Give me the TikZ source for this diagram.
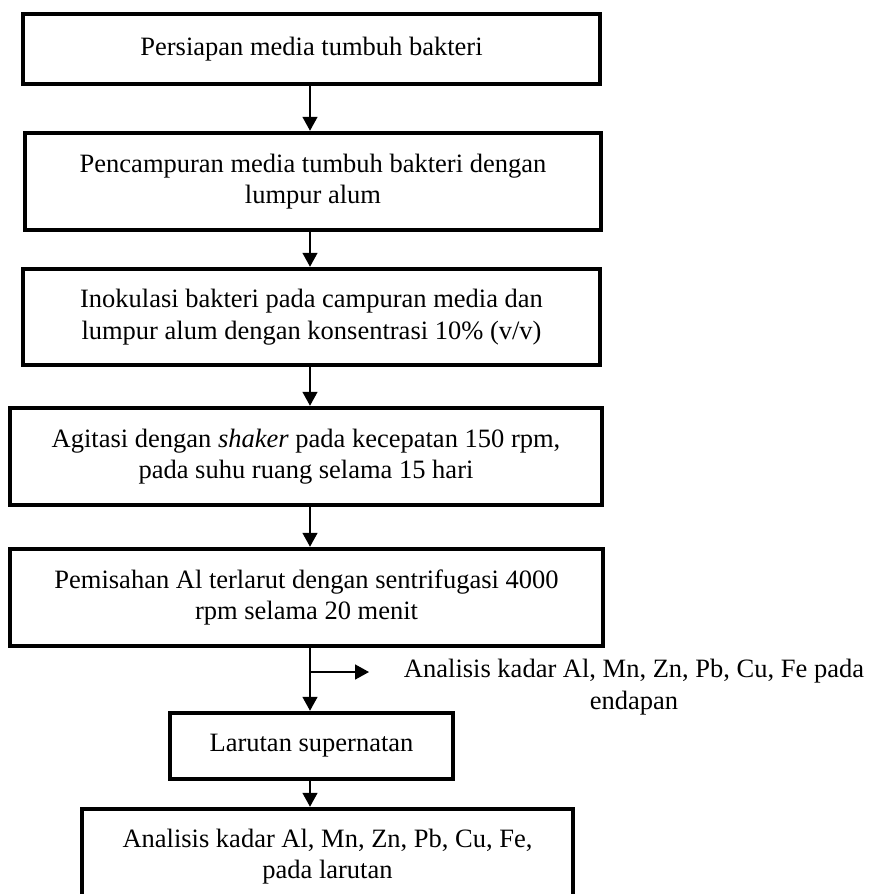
\documentclass[tikz,border=0pt]{standalone}
\usepackage{fontspec}
\setmainfont{Liberation Serif}
\usetikzlibrary{arrows.meta}
\begin{document}
\begin{tikzpicture}[x=1pt,y=-1pt,
  box/.style={draw, line width=4.5pt, align=center, inner sep=0pt, font=\fontsize{26.5}{31.5}\selectfont},
  arr/.style={line width=1.6pt, -{Triangle[length=14pt,width=15pt]}},
  lbl/.style={align=center, inner sep=0pt, font=\fontsize{26.5}{31.5}\selectfont}]
\useasboundingbox (0,0) rectangle (870,894);
\coordinate (ax) at (310,0);
\node[box, minimum width=577pt, minimum height=70pt] (b1) at (311.5,49) {Persiapan media tumbuh bakteri};
\node[box, minimum width=576pt, minimum height=97pt] (b2) at (313,181.5) {Pencampuran media tumbuh bakteri dengan\\lumpur alum};
\node[box, minimum width=577pt, minimum height=96pt] (b3) at (311.5,317) {Inokulasi bakteri pada campuran media dan\\lumpur alum dengan konsentrasi 10\% (v/v)};
\node[box, minimum width=592pt, minimum height=97pt] (b4) at (306,456.5) {Agitasi dengan \textit{shaker} pada kecepatan 150 rpm,\\pada suhu ruang selama 15 hari};
\node[box, minimum width=593pt, minimum height=97pt] (b5) at (306.5,597.5) {Pemisahan Al terlarut dengan sentrifugasi 4000\\rpm selama 20 menit};
\node[box, minimum width=283pt, minimum height=66pt] (b6) at (311.5,746) {Larutan supernatan};
\node[box, minimum width=491pt, minimum height=95pt] (b7) at (327.5,856.5) {Analisis kadar Al, Mn, Zn, Pb, Cu, Fe,\\pada larutan};
\node[lbl] (t1) at (634,687) {Analisis kadar Al, Mn, Zn, Pb, Cu, Fe pada\\endapan};
\coordinate (br) at (310,672);
\coordinate (brEnd) at (369,672);
\draw[arr] (b1.south -| ax) -- (b2.north -| ax);
\draw[arr] (b2.south -| ax) -- (b3.north -| ax);
\draw[arr] (b3.south -| ax) -- (b4.north -| ax);
\draw[arr] (b4.south -| ax) -- (b5.north -| ax);
\draw[arr] (b5.south -| ax) -- (b6.north -| ax);
\draw[arr] (br) -- (brEnd);
\draw[arr] (b6.south -| ax) -- (b7.north -| ax);
\end{tikzpicture}
\end{document}
